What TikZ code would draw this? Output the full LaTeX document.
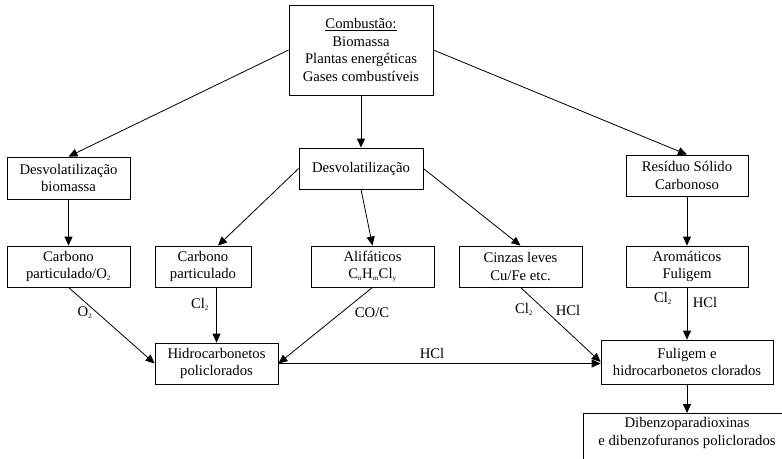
\documentclass[tikz,border=0pt]{standalone}
\usepackage{fontspec}
\setmainfont{Liberation Serif}
\usetikzlibrary{arrows.meta}
\newcommand{\sbs}[1]{\textsubscript{\scriptsize #1}}
\begin{document}
\begin{tikzpicture}[x=1pt,y=-1pt,
  font=\fontsize{14.7}{17.5}\selectfont,
  box/.style={draw, line width=0.8pt, align=center, inner sep=0pt},
  arr/.style={line width=0.8pt, -{Triangle[length=9pt,width=8pt]}},
  lbl/.style={inner sep=0pt}]
\useasboundingbox (0,0) rectangle (782,458);
\clip (0,0) rectangle (782,458);

% boxes
\node[box, minimum width=144pt, minimum height=90pt] (top) at (361,50)
  {\underline{Combustão:}\\Biomassa\\Plantas energéticas\\Gases combustíveis};
\node[box, minimum width=123pt, minimum height=42pt] (dvb) at (68.5,178)
  {Desvolatilização\\biomassa};
\node[box, minimum width=124pt, minimum height=41pt] (dv) at (361,168.5)
  {Desvolatilização};
\node[box, minimum width=122pt, minimum height=41pt] (res) at (687,175.5)
  {Resíduo Sólido\\Carbonoso};
\node[box, minimum width=123pt, minimum height=41pt] (cpo) at (68.5,266.5)
  {Carbono\\particulado/O\sbs{2}};
\node[box, minimum width=96pt, minimum height=41pt] (cp) at (203,266.5)
  {Carbono\\particulado};
\node[box, minimum width=123pt, minimum height=41pt] (ali) at (372.5,266.5)
  {Alifáticos\\C\sbs{n}H\sbs{m}Cl\sbs{y}};
\node[box, minimum width=123pt, minimum height=41pt] (cin) at (520.5,266.5)
  {Cinzas leves\\Cu/Fe etc.};
\node[box, minimum width=122pt, minimum height=41pt] (aro) at (687,266.5)
  {Aromáticos\\Fuligem};
\node[box, minimum width=123pt, minimum height=41pt] (hid) at (216.5,363.5)
  {Hidrocarbonetos\\policlorados};
\node[box, minimum width=172pt, minimum height=44pt] (ful) at (687,362)
  {Fuligem e\\hidrocarbonetos clorados};
% last box runs past the right and bottom edges of the page
\node[box, anchor=north west, minimum width=260pt, minimum height=90pt] (dib) at (583,413) {};
\node[align=center, inner sep=0pt] (dibt) at (687,433)
  {Dibenzoparadioxinas\\e dibenzofuranos policlorados};

% connectors
\draw[arr] (top.west) -- (dvb.north);
\draw[arr] (top.south) -- (dv.north);
\draw[arr] (top.east) -- (res.north);
\draw[arr] (dvb.south) -- (cpo.north);
\draw[arr] (dv.west) -- ([xshift=15pt]cp.north);
\draw[arr] (dv.south) -- (ali.north);
\draw[arr] (dv.east) -- (cin.north);
\draw[arr] (res.south) -- (aro.north);
\draw[arr] (cpo.south) -- (hid.west);
\draw[arr] (cp.south -| hid.north) -- (hid.north);
\draw[arr] (ali.south) -- (hid.east);
\draw[arr] (hid.east) -- (hid.east -| ful.west);
\draw[arr] (cin.south) -- (ful.west);
\draw[arr] (aro.south) -- (ful.north);
\draw[arr] (ful.south) -- (ful.south |- dib.north);

% reagent labels
\node[lbl] (l1) at (85,313) {O\sbs{2}};
\node[lbl] (l2) at (200,304) {Cl\sbs{2}};
\node[lbl] (l3) at (372,313) {CO/C};
\node[lbl] (l4) at (432,353) {HCl};
\node[lbl] (l5) at (524,309) {Cl\sbs{2}};
\node[lbl] (l6) at (568,310) {HCl};
\node[lbl] (l7) at (663,298) {Cl\sbs{2}};
\node[lbl] (l8) at (705,302) {HCl};
\end{tikzpicture}
\end{document}
